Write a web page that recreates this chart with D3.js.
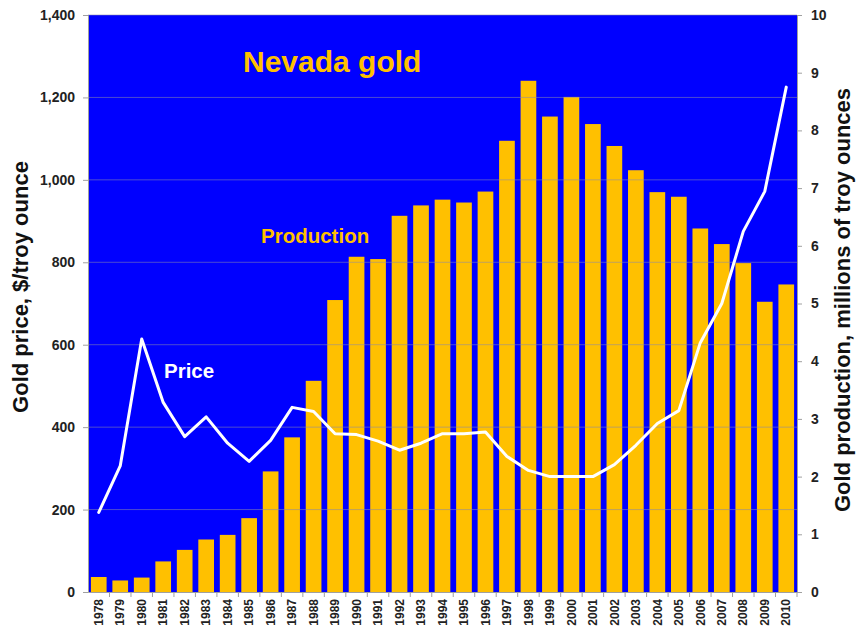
<!DOCTYPE html>
<html>
<head>
<meta charset="utf-8">
<script src="https://cdn.jsdelivr.net/npm/d3@7"></script>
<style>
  html, body { margin: 0; padding: 0; background: #fff; }
  svg { display: block; font-family: "Liberation Sans", Arial, sans-serif; }
</style>
</head>
<body>
<svg id="chart" width="856" height="631"></svg>
<script>
const years = [1978,1979,1980,1981,1982,1983,1984,1985,1986,1987,1988,1989,1990,1991,1992,1993,1994,1995,1996,1997,1998,1999,2000,2001,2002,2003,2004,2005,2006,2007,2008,2009,2010];
const production = [0.26,0.20,0.25,0.53,0.73,0.91,0.99,1.28,2.09,2.68,3.66,5.06,5.81,5.77,6.52,6.70,6.80,6.75,6.94,7.82,8.86,8.24,8.58,8.11,7.73,7.31,6.93,6.85,6.30,6.03,5.70,5.03,5.33];
const price = [193,306,614,460,377,425,361,317,368,448,438,384,382,366,344,361,384,384,388,329,295,280,280,280,309,356,409,440,605,700,875,972,1225];
const priceTicks = [0,200,400,600,800,1000,1200,1400];
const prodTicks = [0,1,2,3,4,5,6,7,8,9,10];

const W = 856, H = 631;
const margin = {left: 88, top: 15, right: 59, bottom: 39};
const x0 = margin.left, x1 = W - margin.right, y0 = margin.top, y1 = H - margin.bottom;

const svg = d3.select("#chart");

const x = d3.scaleBand().domain(years).range([x0, x1]).paddingInner(0.27).paddingOuter(0.135);
const yL = d3.scaleLinear().domain([0, 1400]).range([y1, y0]);
const yR = d3.scaleLinear().domain([0, 10]).range([y1, y0]);

// plot background
svg.append("rect").attr("x", x0).attr("y", y0).attr("width", x1 - x0).attr("height", y1 - y0)
  .attr("fill", "#0000FF");

// bars
svg.append("g").selectAll("rect").data(years).join("rect")
  .attr("x", d => x(d))
  .attr("width", x.bandwidth())
  .attr("y", (d, i) => yR(production[i]))
  .attr("height", (d, i) => yR(0) - yR(production[i]))
  .attr("fill", "#FFC000");

// gridlines
svg.append("g").selectAll("line").data(priceTicks.slice(1)).join("line")
  .attr("x1", x0).attr("x2", x1)
  .attr("y1", d => yL(d)).attr("y2", d => yL(d))
  .attr("stroke", "#8888aa").attr("stroke-opacity", 0.55).attr("stroke-width", 1);

// price line
const line = d3.line()
  .x((d, i) => x(years[i]) + x.bandwidth() / 2)
  .y(d => yL(d));
svg.append("path").datum(price).attr("d", line)
  .attr("fill", "none").attr("stroke", "#FFFFFF").attr("stroke-width", 3)
  .attr("stroke-linejoin", "round").attr("stroke-linecap", "round");

// left axis
const axL = svg.append("g").attr("transform", `translate(${x0},0)`)
  .call(d3.axisLeft(yL).tickValues(priceTicks).tickSize(5).tickPadding(8).tickFormat(d3.format(",")));
axL.select(".domain").attr("stroke", "#a0a0a0");
axL.selectAll(".tick line").attr("stroke", "#a0a0a0");
axL.selectAll("text").attr("font-size", 14).attr("font-weight", "bold").attr("fill", "#222")
  .attr("font-family", "Liberation Sans, Arial, sans-serif");

// right axis
const axR = svg.append("g").attr("transform", `translate(${x1},0)`)
  .call(d3.axisRight(yR).tickValues(prodTicks).tickSize(5).tickPadding(9));
axR.select(".domain").attr("stroke", "#a0a0a0");
axR.selectAll(".tick line").attr("stroke", "#a0a0a0");
axR.selectAll("text").attr("font-size", 14).attr("font-weight", "bold").attr("fill", "#222")
  .attr("font-family", "Liberation Sans, Arial, sans-serif");

// bottom axis
const axB = svg.append("g").attr("transform", `translate(0,${y1})`)
  .call(d3.axisBottom(x).tickSize(5).tickSizeOuter(0));
axB.select(".domain").attr("stroke", "#a0a0a0");
axB.selectAll(".tick line").attr("stroke", "#a0a0a0")
  .attr("transform", `translate(${x.step()/2},0)`);
axB.selectAll("text")
  .attr("font-size", 12).attr("font-weight", "bold").attr("fill", "#222")
  .attr("font-family", "Liberation Sans, Arial, sans-serif")
  .attr("text-anchor", "end")
  .attr("transform", "rotate(-90)")
  .attr("x", -7).attr("y", 0).attr("dy", "0.35em");

// axis titles
svg.append("text")
  .attr("transform", `translate(28,${287}) rotate(-90)`)
  .attr("text-anchor", "middle")
  .attr("font-size", 22).attr("font-weight", "bold").attr("fill", "#111")
  .text("Gold price, $/troy ounce");
svg.append("text")
  .attr("transform", `translate(850,${300}) rotate(-90)`)
  .attr("text-anchor", "middle")
  .attr("font-size", 22).attr("font-weight", "bold").attr("fill", "#111")
  .text("Gold production, millions of troy ounces");

// in-plot labels
svg.append("text").attr("x", 243).attr("y", 72)
  .attr("font-size", 30).attr("font-weight", "bold").attr("fill", "#FFC000")
  .text("Nevada gold");
svg.append("text").attr("x", 261).attr("y", 243)
  .attr("font-size", 20.5).attr("font-weight", "bold").attr("fill", "#FFC000")
  .text("Production");
svg.append("text").attr("x", 164).attr("y", 378)
  .attr("font-size", 20.5).attr("font-weight", "bold").attr("fill", "#FFFFFF")
  .text("Price");
</script>
</body>
</html>
